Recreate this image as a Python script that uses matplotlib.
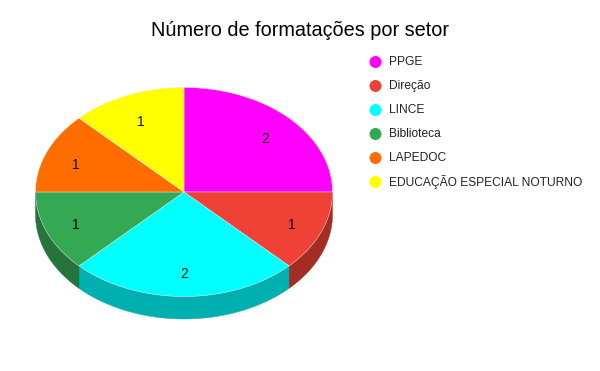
import matplotlib
matplotlib.use('Agg')
import matplotlib.pyplot as plt
import numpy as np
from matplotlib.patches import Polygon, Circle

plt.rcParams['font.family'] = ['Liberation Sans', 'DejaVu Sans']

title = 'Número de formatações por setor'
setores = ['PPGE', 'Direção', 'LINCE', 'Biblioteca', 'LAPEDOC', 'EDUCAÇÃO ESPECIAL NOTURNO']
valores = [2, 1, 2, 1, 1, 1]
cores = ['#ff00ff', '#ef4136', '#00ffff', '#34a853', '#ff6d00', '#ffff00']
cores_lado = ['#b300b3', '#a32c25', '#00b0b0', '#26733b', '#b34c00', '#b3b300']

fig = plt.figure(figsize=(6, 3.71), dpi=100)
ax = fig.add_axes([0, 0, 1, 1])
ax.set_xlim(0, 600)
ax.set_ylim(371, 0)
ax.axis('off')

cx, cy, rx, ry, depth = 184, 192, 148.5, 104.5, 22.5

total = sum(valores)
fatias = []
ang = 90.0
for v in valores:
    a2 = ang - 360.0 * v / total
    fatias.append((ang, a2))
    ang = a2


def borda(a1, a2, n=60):
    t = np.radians(np.linspace(a1, a2, n))
    return cx + rx * np.cos(t), cy - ry * np.sin(t)


# lateral: only the front half of the ellipse shows
for (a1, a2), c in zip(fatias, cores_lado):
    ini, fim = max(a2, -180), min(a1, 0)
    if ini >= fim:
        continue
    x, y = borda(fim, ini)
    pts = list(zip(x, y)) + list(zip(x[::-1], y[::-1] + depth))
    ax.add_patch(Polygon(pts, closed=True, fc=c, ec=c, lw=0.3))

# top
for (a1, a2), c in zip(fatias, cores):
    x, y = borda(a1, a2)
    pts = [(cx, cy)] + list(zip(x, y))
    ax.add_patch(Polygon(pts, closed=True, fc=c, ec='#e8e8e8', lw=0.3))

# value labels
for (a1, a2), v in zip(fatias, valores):
    m = np.radians((a1 + a2) / 2)
    fx = 0.74 + 0.05 * abs(np.cos(m))
    ax.text(cx + fx * rx * np.cos(m), cy + 3 - 0.76 * ry * np.sin(m), str(v),
            fontsize=10, ha='center', va='center', color='#111111')

ax.text(300, 31, title, fontsize=14.3, ha='center', va='center', color='black')

# legend
for i, (s, c) in enumerate(zip(setores, cores)):
    y = 62 + i * 24
    ax.add_patch(Circle((375.5, y), 6, fc=c, ec='none'))
    ax.text(389, y + 0.3, s, fontsize=8.65, ha='left', va='center', color='#222222')

fig.savefig('out.png', dpi=100, facecolor='white')
